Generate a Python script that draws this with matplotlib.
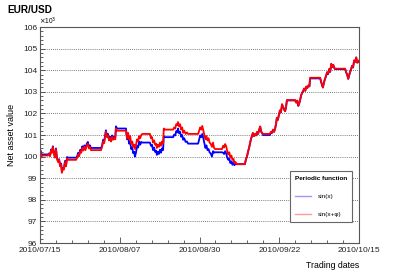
import numpy as np
import matplotlib
matplotlib.use("Agg")
import matplotlib.pyplot as plt
from matplotlib.ticker import MultipleLocator
from matplotlib.lines import Line2D

plt.rcParams['font.family'] = ['Liberation Sans', 'DejaVu Sans']

# trading day offset from 2010/07/15
days = [0.0, 0.15, 0.3, 0.5, 2.3,
        2.6, 2.9, 3.2, 3.5, 3.7, 4.0, 4.3, 4.6, 4.9,
        5.2, 5.5, 5.8, 6.1, 6.3, 6.6, 6.9, 7.2, 7.5, 7.8, 8.0,
        10.4, 10.7, 11.0, 11.3, 11.6, 11.9, 12.2, 12.5, 12.8, 13.1, 13.5, 13.8, 14.1, 14.4, 14.7,
        17.6, 17.9, 18.2, 18.5, 18.8, 19.0, 19.3, 19.6, 19.9, 20.2, 20.5, 20.8, 21.1, 21.4, 21.7, 21.9, 22.2,
        24.8, 25.1, 25.4, 25.7, 26.0, 26.3, 26.6, 26.9, 27.2, 27.4, 27.7, 28.0, 28.3, 28.6, 28.9, 29.2, 29.5,
        31.7, 32.0, 32.3, 32.6, 32.9, 33.2, 33.5, 33.7, 34.0, 34.3, 34.6, 34.9, 35.2, 35.5, 35.7, 36.0,
        38.4, 38.7, 39.0, 39.3, 39.6, 39.8, 40.1, 40.4, 40.7, 41.0, 41.3, 41.6, 42.0, 42.4, 42.7,
        45.6, 45.9, 46.2, 46.5, 46.8, 47.1, 47.4, 47.7, 48.0, 48.3, 48.6, 48.9, 49.2, 49.6, 49.9, 50.2, 50.5,
        52.5, 52.8, 53.1, 53.4, 53.7, 54.0, 54.3, 54.6, 54.9, 55.2, 55.5, 55.8, 56.1, 56.4, 56.7,
        59.1, 59.4, 59.7, 60.0, 60.3, 60.6, 60.9, 61.1, 61.4, 61.7, 62.0, 62.3, 62.6, 62.9, 63.2, 63.5, 63.8, 64.1, 64.3,
        66.3, 66.6, 66.9, 67.2, 67.5, 67.8, 68.1, 68.3, 68.6, 68.9, 69.2, 69.5, 69.8, 70.1, 70.4, 70.7, 71.0, 71.2,
        73.6, 73.9, 74.2, 74.5, 74.8, 75.0, 75.3, 75.6, 75.9, 76.2, 76.5, 76.8, 77.1, 77.4, 77.7, 77.9,
        80.8, 81.1, 81.4, 81.6, 81.9, 82.2, 82.5, 82.8, 83.1, 83.4, 83.7, 84.0, 84.3, 84.6, 84.9, 85.1,
        88.0, 88.3, 88.6, 88.9, 89.1, 89.4, 89.7, 90.0, 90.3, 90.6, 90.9, 91.2, 91.5, 91.8, 92.0]

# net asset value, x10^3
sin_x = [100.02, 100.28, 99.98, 100.10, 100.10,
         100.15, 100.05, 100.33, 100.22, 100.48, 100.18, 99.98, 100.38, 99.93,
         99.78, 99.88, 99.58, 99.68, 99.30, 99.48, 99.45, 99.80, 99.60, 99.98, 99.95,
         99.95, 100.02, 100.18, 100.10, 100.32, 100.25, 100.48, 100.35, 100.52, 100.38, 100.60, 100.68, 100.45, 100.52, 100.40,
         100.40, 100.52, 100.78, 100.70, 101.02, 101.22, 100.98, 101.05, 100.82, 100.92, 100.78, 100.98, 100.85, 100.92, 100.88, 101.40, 101.30,
         101.30, 100.80, 100.95, 100.60, 100.70, 100.35, 100.42, 100.15, 100.22, 100.00, 100.20, 100.50, 100.42, 100.70, 100.55, 100.68, 100.65,
         100.65, 100.50, 100.55, 100.30, 100.42, 100.22, 100.28, 100.08, 100.22, 100.12, 100.32, 100.18, 100.38, 100.30, 100.95, 100.90,
         100.90, 101.02, 100.98, 101.18, 101.12, 101.30, 101.08, 101.15, 100.92, 101.00, 100.78, 100.85, 100.68, 100.70, 100.60,
         100.60, 100.80, 100.98, 100.90, 101.05, 100.85, 100.62, 100.40, 100.52, 100.30, 100.35, 100.20, 100.15, 100.00, 100.25, 100.18, 100.20,
         100.20, 100.18, 100.12, 100.25, 100.15, 99.95, 99.85, 99.90, 99.70, 99.78, 99.62, 99.75, 99.60, 99.70, 99.65,
         99.65, 99.88, 100.00, 100.22, 100.40, 100.62, 100.85, 100.92, 101.08, 100.95, 101.02, 100.98, 101.12, 101.05, 101.22, 101.38, 101.15, 101.08, 101.00,
         101.00, 101.12, 101.10, 101.22, 101.15, 101.28, 101.52, 101.78, 101.70, 101.92, 102.12, 102.05, 102.40, 102.30, 102.18, 102.10, 102.32, 102.60,
         102.60, 102.50, 102.58, 102.35, 102.48, 102.60, 102.82, 102.95, 103.02, 103.15, 103.05, 103.22, 103.18, 103.28, 103.25, 103.62,
         103.62, 103.45, 103.28, 103.20, 103.42, 103.60, 103.72, 103.90, 103.82, 104.05, 103.92, 104.28, 104.15, 104.22, 104.10, 104.05,
         104.05, 103.90, 103.78, 103.60, 103.72, 103.90, 104.02, 104.20, 104.12, 104.45, 104.38, 104.58, 104.35, 104.42, 104.38]

sin_x_phi = [100.00, 100.25, 99.95, 100.05, 100.05,
             100.12, 100.02, 100.30, 100.18, 100.45, 100.15, 99.95, 100.35, 99.90,
             99.75, 99.85, 99.55, 99.65, 99.25, 99.45, 99.40, 99.75, 99.55, 99.92, 99.85,
             99.85, 99.95, 100.10, 100.02, 100.25, 100.18, 100.40, 100.28, 100.45, 100.30, 100.52, 100.60, 100.38, 100.45, 100.30,
             100.30, 100.45, 100.70, 100.62, 100.95, 101.15, 100.90, 100.98, 100.75, 100.85, 100.70, 100.92, 100.78, 100.85, 100.80, 101.30, 101.20,
             101.20, 100.85, 101.10, 100.80, 100.95, 100.60, 100.70, 100.45, 100.55, 100.35, 100.55, 100.80, 100.70, 100.95, 100.85, 101.00, 101.05,
             101.05, 100.85, 100.90, 100.65, 100.75, 100.55, 100.60, 100.40, 100.55, 100.45, 100.65, 100.50, 100.70, 100.60, 101.30, 101.25,
             101.25, 101.35, 101.30, 101.50, 101.45, 101.60, 101.40, 101.50, 101.25, 101.35, 101.10, 101.20, 101.05, 101.12, 101.05,
             101.05, 101.20, 101.35, 101.25, 101.42, 101.20, 101.00, 100.80, 100.95, 100.75, 100.85, 100.65, 100.60, 100.45, 100.65, 100.40, 100.35,
             100.35, 100.50, 100.42, 100.58, 100.48, 100.25, 100.10, 100.20, 99.95, 100.05, 99.85, 99.90, 99.70, 99.75, 99.65,
             99.65, 99.90, 100.00, 100.25, 100.40, 100.65, 100.85, 100.95, 101.10, 100.95, 101.05, 100.98, 101.15, 101.05, 101.25, 101.40, 101.15, 101.10, 101.05,
             101.05, 101.15, 101.10, 101.25, 101.15, 101.30, 101.55, 101.80, 101.70, 101.95, 102.15, 102.05, 102.43, 102.30, 102.20, 102.10, 102.35, 102.62,
             102.62, 102.50, 102.60, 102.35, 102.50, 102.60, 102.85, 102.95, 103.05, 103.15, 103.05, 103.25, 103.18, 103.30, 103.25, 103.65,
             103.65, 103.45, 103.30, 103.20, 103.45, 103.60, 103.75, 103.90, 103.85, 104.05, 103.95, 104.30, 104.15, 104.25, 104.10, 104.07,
             104.07, 103.90, 103.80, 103.60, 103.75, 103.90, 104.05, 104.20, 104.15, 104.45, 104.40, 104.60, 104.35, 104.45, 104.38]

date_ticks = [0, 23, 46, 69, 92]
date_labels = ["2010/07/15", "2010/08/07", "2010/08/30", "2010/09/22", "2010/10/15"]

fig = plt.figure(figsize=(3.99, 2.70), dpi=100)
ax = fig.add_axes([0.1003, 0.1, 0.7994, 0.8])

ax.plot(days, sin_x, color='#0000ff', linewidth=1.3)
ax.plot(days, sin_x_phi, color='#ff0000', linewidth=1.3)

ax.set_xlim(0, 92)
ax.set_ylim(96, 106)
ax.set_xticks(date_ticks)
ax.set_xticklabels(date_labels)
ax.xaxis.set_minor_locator(MultipleLocator(4.6))
ax.yaxis.set_major_locator(MultipleLocator(1))
ax.yaxis.set_minor_locator(MultipleLocator(0.2))

ax.tick_params(which='both', direction='in', labelsize=6, colors='#222222', width=0.5)
ax.tick_params(axis='y', which='major', length=3.6, pad=2)
ax.tick_params(axis='y', which='minor', length=1.8)
ax.tick_params(axis='x', which='major', length=4.3, pad=3)
ax.tick_params(axis='x', which='minor', length=2.2)

ax.grid(True, axis='y', which='major', linestyle=(0, (1, 1.5)), linewidth=0.6, color='#555555')
for s in ax.spines.values():
    s.set_color('#555555')
    s.set_linewidth(0.8)

ax.set_ylabel('Net asset value', fontsize=6.5)
ax.yaxis.set_label_coords(-0.075, 0.5)
ax.set_xlabel('Trading dates', fontsize=6.3, loc='right')
ax.xaxis.set_label_coords(1.0, -0.085)

fig.text(0.018, 0.962, 'EUR/USD', fontsize=7.2, fontweight='bold', va='center')
fig.text(0.098, 0.92, r'$\times$10$^{3}$', fontsize=4.8, va='center')

handles = [Line2D([], [], color='#9999ff', linewidth=1.0),
           Line2D([], [], color='#ff9999', linewidth=1.0)]
leg = fig.legend(handles, ['sin(x)', 'sin(x+\u03c6)'], title='Periodic function',
                 loc='upper left', bbox_to_anchor=(0.719, 0.378),
                 fontsize=4.6, title_fontsize=4.6, alignment='left',
                 labelspacing=2.0, borderpad=0.75, handlelength=2.6,
                 handletextpad=1.0, fancybox=False, framealpha=1,
                 edgecolor='#666666')
leg.get_title().set_fontweight('bold')
leg.get_frame().set_linewidth(0.8)

fig.savefig('out.png', dpi=100)
